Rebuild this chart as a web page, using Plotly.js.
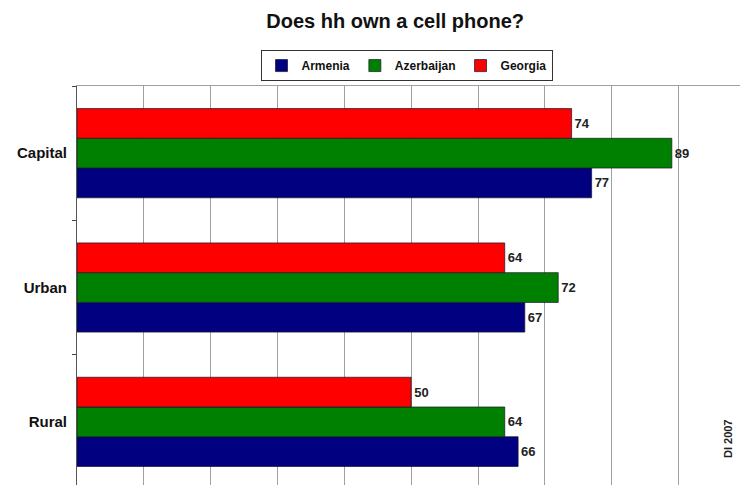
<!DOCTYPE html>
<html>
<head>
<meta charset="utf-8">
<script src="https://cdn.plot.ly/plotly-3.0.1.min.js"></script>
<style>html,body{margin:0;padding:0;background:#fff}#chart{width:740px;height:485px}</style>
</head>
<body>
<div id="chart"></div>
<script>
const categories = ['Capital', 'Urban', 'Rural'];
const seriesNames = ['Armenia', 'Azerbaijan', 'Georgia'];
const armenia = [77, 67, 66];
const azerbaijan = [89, 72, 64];
const georgia = [74, 64, 50];
const colors = ['#000080', '#008000', '#FF0000'];
const values = [armenia, azerbaijan, georgia];

const traces = seriesNames.map((name, i) => ({
  type: 'bar',
  orientation: 'h',
  name: name,
  y: categories,
  x: values[i],
  text: values[i].map(String),
  textposition: 'outside',
  cliponaxis: false,
  textfont: {family: 'Liberation Sans Narrow, Liberation Sans, Arial Narrow, sans-serif', size: 13, color: '#222', weight: 'bold'},
  marker: {color: colors[i], line: {color: 'rgba(20,20,40,0.7)', width: 1}},
  hoverinfo: 'skip'
}));

const layout = {
  width: 740,
  height: 485,
  margin: {l: 77, r: 0, t: 86, b: 0},
  paper_bgcolor: '#fff',
  plot_bgcolor: '#fff',
  barmode: 'group',
  bargap: 0.336,
  bargroupgap: 0,
  showlegend: true,
  title: {
    text: '<b>Does hh own a cell phone?</b>',
    font: {family: 'Liberation Sans, Arial, sans-serif', size: 20, color: '#111'},
    x: 0.534, xanchor: 'center', y: 0.956, yanchor: 'middle'
  },
  legend: {
    orientation: 'h',
    x: 0.497, xanchor: 'center',
    y: 1.09, yanchor: 'top',
    bordercolor: '#333', borderwidth: 1, bgcolor: '#fff',
    font: {family: 'Liberation Sans Narrow, Liberation Sans, Arial Narrow, sans-serif', size: 12, color: '#111', weight: 'bold'},
    itemwidth: 30,
    tracegroupgap: 0
  },
  xaxis: {
    range: [0, 99.2],
    side: 'top',
    showticklabels: false,
    ticks: '',
    dtick: 10,
    tick0: 0,
    showgrid: true,
    gridcolor: '#a0a0a0',
    gridwidth: 1,
    zeroline: false,
    showline: true,
    linecolor: '#a0a0a0',
    linewidth: 1,
    fixedrange: true
  },
  yaxis: {
    type: 'category',
    categoryorder: 'array',
    categoryarray: ['Rural', 'Urban', 'Capital'],
    range: [-0.47, 2.5],
    tickson: 'boundaries',
    ticks: 'outside',
    ticklen: 4,
    tickcolor: '#444',
    showgrid: false,
    showline: true,
    linecolor: '#555',
    linewidth: 1,
    zeroline: false,
    tickfont: {family: 'Liberation Sans, Arial, sans-serif', size: 15, color: '#111', weight: 'bold'},
    ticklabelstandoff: 6,
    fixedrange: true
  },
  annotations: [{
    text: '<b>DI 2007</b>',
    xref: 'paper', yref: 'paper',
    x: 0.995, y: 0.063,
    showarrow: false,
    textangle: -90,
    font: {family: 'Liberation Sans Narrow, Liberation Sans, Arial Narrow, sans-serif', size: 11, color: '#222'}
  }]
};

Plotly.newPlot('chart', traces, layout, {displayModeBar: false, staticPlot: true});
</script>
</body>
</html>
